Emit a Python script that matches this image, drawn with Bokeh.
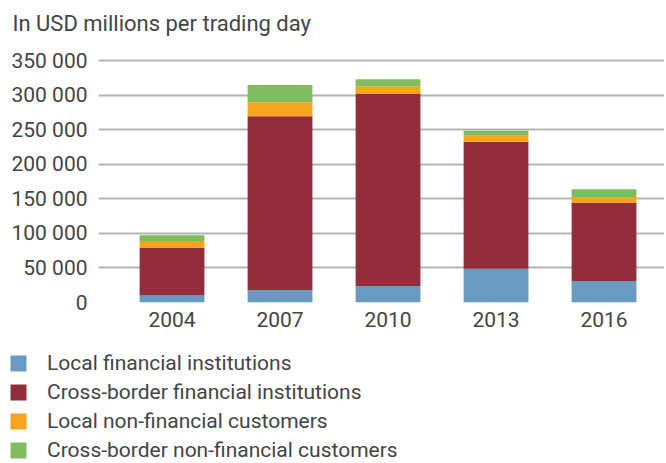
from bokeh.plotting import figure
from bokeh.layouts import column
from bokeh.models import Legend, LegendItem, FixedTicker, Range1d, ColumnDataSource
from bokeh.embed import file_html
from bokeh.resources import INLINE

years = ["2004", "2007", "2010", "2013", "2016"]
local_fin = [10000, 18000, 24000, 49000, 31000]
cross_fin = [69000, 252000, 278000, 184000, 113000]
local_nonfin = [10000, 20000, 11000, 8500, 9000]
cross_nonfin = [8500, 25000, 10500, 7500, 11000]

series = ["local_fin", "cross_fin", "local_nonfin", "cross_nonfin"]
series_labels = ["Local financial institutions", "Cross-border financial institutions",
                 "Local non-financial customers", "Cross-border non-financial customers"]
colors = ["#6b9ac0", "#922d3b", "#f7a51e", "#80bb60"]

ytick_values = [0, 50000, 100000, 150000, 200000, 250000, 300000, 350000]
ytick_labels = ["0", "50 000", "100 000", "150 000", "200 000", "250 000", "300 000", "350 000"]

title_text = "In USD millions per trading day"

FONT = "Roboto"
TXT = "#444444"

xpos = list(range(len(years)))
source = ColumnDataSource(dict(x=xpos, local_fin=local_fin, cross_fin=cross_fin,
                               local_nonfin=local_nonfin, cross_nonfin=cross_nonfin))

# title strip
p0 = figure(width=664, height=48, output_backend="svg", toolbar_location=None,
            x_axis_type=None, y_axis_type=None,
            min_border_left=0, min_border_right=0, min_border_top=0, min_border_bottom=0)
p0.outline_line_color = None
p0.grid.grid_line_color = None
p0.title.text = title_text
p0.title.text_font = FONT
p0.title.text_font_size = "22px"
p0.title.text_font_style = "normal"
p0.title.text_color = TXT
p0.title.align = "left"
p0.title.vertical_align = "top"
p0.title.offset = 12
p0.title.standoff = 20

# main chart
p = figure(width=664, height=292, output_backend="svg", toolbar_location=None,
           x_range=Range1d(-0.6806, 4.56), y_range=Range1d(0, 355000),
           min_border_left=98, min_border_right=0, min_border_top=9, min_border_bottom=38)
p.outline_line_color = None

p.vbar_stack(series, x="x", width=0.6, color=colors, source=source, line_width=0)

p.xaxis.ticker = FixedTicker(ticks=xpos)
p.xaxis.major_label_overrides = {i: y for i, y in enumerate(years)}
p.yaxis.ticker = FixedTicker(ticks=ytick_values)
p.yaxis.major_label_overrides = {v: l for v, l in zip(ytick_values, ytick_labels)}
for ax in (p.xaxis, p.yaxis):
    ax.axis_line_color = None
    ax.major_tick_line_color = None
    ax.minor_tick_line_color = None
    ax.major_tick_out = 0
    ax.major_tick_in = 0
    ax.major_label_text_font = FONT
    ax.major_label_text_font_size = "21px"
    ax.major_label_text_color = TXT
p.xaxis.major_label_standoff = 9
p.yaxis.major_label_standoff = 11

p.xgrid.grid_line_color = None
p.ygrid.grid_line_color = "#b3b3b3"
p.ygrid.grid_line_width = 1.8
p.ygrid.level = "underlay"

# legend panel: the same stacked series as hidden renderers, only their legend is shown
p2 = figure(width=664, height=123, output_backend="svg", toolbar_location=None,
            x_range=Range1d(0, 1), y_range=Range1d(0, 1),
            x_axis_type=None, y_axis_type=None,
            min_border_left=0, min_border_right=0, min_border_top=0, min_border_bottom=0)
p2.outline_line_color = None
p2.grid.grid_line_color = None
leg_renderers = p2.vbar_stack(series, x="x", width=0.6, color=colors, source=source, line_width=0)
for r in leg_renderers:
    r.visible = False

legend = Legend(items=[LegendItem(label=lab, renderers=[r]) for lab, r in zip(series_labels, leg_renderers)],
                location=(8, 1), orientation="vertical", click_policy="none",
                glyph_width=20, glyph_height=20, label_height=24, spacing=5,
                label_standoff=19, padding=0, margin=0,
                inactive_fill_alpha=0,
                border_line_color=None, background_fill_alpha=0,
                label_text_font=FONT, label_text_font_size="21px", label_text_color=TXT)
p2.add_layout(legend, "center")

layout = column(column(p0, spacing=0), p, column(p2, spacing=0), spacing=0)
open("out.html", "w").write(file_html(layout, INLINE))
